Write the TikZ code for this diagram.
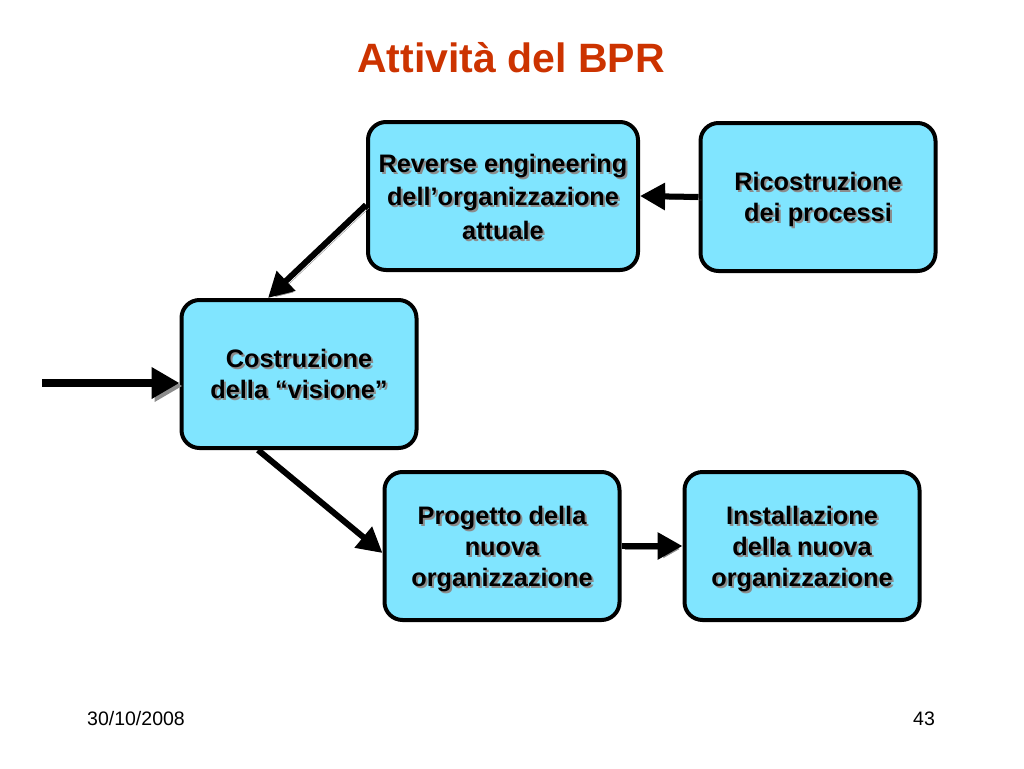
\documentclass[tikz,border=0pt]{standalone}
\usepackage{fontspec}
\setmainfont{Liberation Sans}
\usetikzlibrary{positioning, arrows.meta}
\definecolor{boxcyan}{RGB}{128,229,255}
\definecolor{titlered}{RGB}{204,51,0}
\definecolor{shadowgray}{RGB}{140,140,140}
% testo con ombra
\newcommand{\shtxt}[1]{\raisebox{-4pt}[\height][\depth]{\rlap{\kern2pt\raisebox{-2pt}{\color{shadowgray}\begin{tabular}{@{}c@{}}#1\end{tabular}}}\begin{tabular}{@{}c@{}}#1\end{tabular}}}

\begin{document}
\begin{tikzpicture}[x=1pt, y=-1pt,
  stepbox/.style={draw, line width=4pt, rounded corners=18pt, fill=boxcyan, minimum height=148pt, inner sep=0pt, font=\bfseries\fontsize{25.3}{31}\selectfont},
  flow/.style={line width=6pt, -{Triangle[length=25pt,width=26pt]}, preaction={draw=shadowgray, transform canvas={shift={(3pt,-3pt)}}}}]
\useasboundingbox (0,0) rectangle (1024,768);
\node [titlered, font=\bfseries\fontsize{41}{44}\selectfont, anchor=base] (title) at (511,72) {Attività del BPR};
\node [stepbox, minimum width=270pt] (rev) at (503,196) {\renewcommand{\arraystretch}{1.08}\shtxt{Reverse engineering\\dell’organizzazione\\attuale}};
\node [stepbox, minimum width=235pt] (ric) at (818,197) {\shtxt{Ricostruzione\\dei processi}};
\node [stepbox, minimum width=235pt] (cost) at (299,374) {\shtxt{Costruzione\\della “visione”}};
\node [stepbox, minimum width=235pt] (prog) at (502,546) {\shtxt{Progetto della\\nuova\\organizzazione}};
\node [stepbox, minimum width=235pt] (inst) at (802,546) {\shtxt{Installazione\\della nuova\\organizzazione}};
\coordinate (start) at (42,383);
\draw [flow, line width=8pt, -{Triangle[length=28pt,width=30pt]}] (start) -- (start -| cost.west);
\draw [flow] (ric.west) -- (rev.east);
\draw [flow] ([yshift=-9pt]rev.west) -- ([xshift=-31pt]cost.north);
\draw [flow] ([xshift=-41pt]cost.south) -- ([yshift=-7pt]prog.west);
\draw [flow] (prog.east) -- (inst.west);
\node [anchor=base, font=\fontsize{19.5}{22}\selectfont] (date) at (136,725) {30/10/2008};
\node [anchor=base, font=\fontsize{19.5}{22}\selectfont] (page) at (924,725) {43};
\end{tikzpicture}
\end{document}
